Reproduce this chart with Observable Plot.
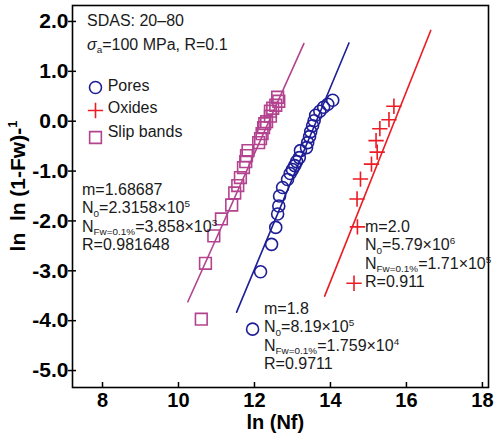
<!DOCTYPE html>
<html><head><meta charset="utf-8">
<script src="https://cdn.jsdelivr.net/npm/d3@7"></script>
<script src="https://cdn.jsdelivr.net/npm/@observablehq/plot@0.6"></script>
<style>body{margin:0;background:#fff} svg{display:block}</style>
</head><body><div id="chart"></div>
<script>
// ---- data ----
const xTicks = [8, 10, 12, 14, 16, 18];
const yTicks = [2, 1, 0, -1, -2, -3, -4, -5];

const poresX = [11.95,12.16,12.45,12.56,12.61,12.64,12.66,12.74,12.87,12.94,13.00,13.06,13.11,13.18,13.21,13.37,13.40,13.45,13.48,13.53,13.57,13.61,13.72,13.82,13.93,14.06];
const poresY = [-4.17,-3.02,-2.47,-2.13,-1.86,-1.70,-1.50,-1.33,-1.17,-1.05,-0.97,-0.89,-0.81,-0.73,-0.59,-0.53,-0.43,-0.31,-0.21,-0.09,0.01,0.12,0.20,0.28,0.34,0.42];

const oxidesX = [14.62,14.71,14.70,14.79,15.08,15.23,15.20,15.30,15.54,15.67];
const oxidesY = [-3.25,-2.12,-1.56,-1.16,-0.86,-0.62,-0.39,-0.15,0.03,0.30];

const slipX = [10.60,10.71,10.93,11.13,11.40,11.48,11.56,11.63,11.71,11.77,11.79,11.83,12.11,12.16,12.20,12.24,12.27,12.32,12.42,12.42,12.48,12.56,12.61,12.64];
const slipY = [-3.97,-2.85,-2.30,-1.96,-1.68,-1.44,-1.29,-1.13,-0.93,-0.81,-0.69,-0.59,-0.43,-0.35,-0.25,-0.13,-0.05,-0.01,0.10,0.20,0.26,0.32,0.48,0.40];

// fitted lines (end points)
const slipFitX = [10.246, 13.30],  slipFitY = [-3.62, 1.557];
const poresFitX = [11.529, 14.487], poresFitY = [-3.829, 1.569];
const oxidesFitX = [13.847, 16.64], oxidesFitY = [-3.507, 1.82];

const seriesNames = ["Pores", "Oxides", "Slip bands"];
// ---- styles ----
const C = {pores: "#1e1e96", oxides: "#ec1c24", slip: "#b3438f"};
const FONT = "'Liberation Sans', Arial, Helvetica, sans-serif";

const zip = (xs, ys) => xs.map((x, i) => ({x, y: ys[i]}));
const pores = zip(poresX, poresY), oxides = zip(oxidesX, oxidesY), slip = zip(slipX, slipY);

const W = 494, H = 436, mL = 72, mR = 6, mT = 5, mB = 49;
const plotW = W - mL - mR, plotH = H - mT - mB;
const PLUS_R = 5;

const svg = Plot.plot({
  width: W, height: H, marginLeft: mL, marginRight: mR, marginTop: mT, marginBottom: mB,
  style: {fontFamily: FONT, background: "#fff", color: "#000", overflow: "visible"},
  x: {domain: [7.21, 18.16]},
  y: {domain: [-5.34, 2.32]},
  marks: [
    Plot.axisX(xTicks, {tickSize: 0, tickPadding: 5, fontSize: 20, fontWeight: "bold", label: null}),
    Plot.ruleX(xTicks, {insetTop: plotH - 5, stroke: "#000", strokeWidth: 1.5}),
    Plot.axisY(yTicks, {tickSize: 4, tickPadding: 0, fontSize: 21, fontWeight: "bold", label: null, strokeWidth: 1.5, tickFormat: d => d.toFixed(1)}),
    Plot.ruleY(yTicks, {insetRight: plotW - 4, stroke: "#000", strokeWidth: 1.5}),
    Plot.line(zip(slipFitX, slipFitY), {x: "x", y: "y", stroke: C.slip, strokeWidth: 1.6}),
    Plot.line(zip(poresFitX, poresFitY), {x: "x", y: "y", stroke: C.pores, strokeWidth: 1.6}),
    Plot.line(zip(oxidesFitX, oxidesFitY), {x: "x", y: "y", stroke: C.oxides, strokeWidth: 1.6}),
    Plot.dot(slip, {x: "x", y: "y", symbol: "square", r: 6.6, stroke: C.slip, strokeWidth: 1.6, fill: "none"}),
    Plot.dot(pores, {x: "x", y: "y", symbol: "circle", r: 6, stroke: C.pores, strokeWidth: 1.6, fill: "none"}),
    Plot.dot(oxides, {x: "x", y: "y", symbol: "plus", r: PLUS_R, stroke: C.oxides, strokeWidth: 1.6}),
    // legend markers
    Plot.dot([seriesNames[0]], {frameAnchor: "top-left", dx: 23, dy: 82, symbol: "circle", r: 6, stroke: C.pores, strokeWidth: 1.6, fill: "none"}),
    Plot.dot([seriesNames[1]], {frameAnchor: "top-left", dx: 23, dy: 105, symbol: "plus", r: PLUS_R, stroke: C.oxides, strokeWidth: 1.6}),
    Plot.dot([seriesNames[2]], {frameAnchor: "top-left", dx: 23, dy: 132, symbol: "square", r: 6.6, stroke: C.slip, strokeWidth: 1.6, fill: "none"}),
    Plot.frame({stroke: "#000", strokeWidth: 1.6})
  ]
});
document.getElementById("chart").appendChild(svg);

// ---- rich text annotations ----
const S = d3.select(svg);
function rich(x, y, parts, opt = {}) {
  const size = opt.size || 16;
  const t = S.append("text").attr("x", x).attr("y", y)
    .attr("font-size", size).attr("font-family", FONT)
    .attr("font-weight", opt.weight || "normal").attr("fill", opt.fill || "#1a1a1a")
    .attr("text-anchor", opt.anchor || "start")
    .style("white-space", "pre");
  if (opt.transform) t.attr("transform", opt.transform).attr("x", 0).attr("y", 0);
  let shift = 0;
  for (const p of parts) {
    const [s, kind] = Array.isArray(p) ? p : [p, null];
    const ts = t.append("tspan").text(s);
    const target = kind === "sub" ? size * 0.22 : kind === "sup" ? -size * 0.38 : 0;
    if (target - shift !== 0) ts.attr("dy", target - shift);
    shift = target;
    if (kind === "sub" || kind === "sup") ts.attr("font-size", size * 0.62);
    if (kind === "it") ts.attr("font-style", "italic");
  }
}
rich(87, 26, ["SDAS: 20\u201380"]);
rich(87, 49.5, [["\u03c3", "it"], ["a", "sub"], "=100 MPa, R=0.1"]);
rich(107.7, 90.7, [seriesNames[0]]);
rich(107.7, 113.3, [seriesNames[1]]);
rich(107.7, 137.3, [seriesNames[2]]);

function block(x, y0, lines) { lines.forEach((l, i) => rich(x, y0 + i * 18.3, l)); }
block(82, 195, [["m=1.68687"], ["N", ["0", "sub"], "=2.3158\u00d710", ["5", "sup"]], ["N", ["Fw=0.1%", "sub"], "=3.858\u00d710", ["3", "sup"]], ["R=0.981648"]]);
block(365, 232, [["m=2.0"], ["N", ["0", "sub"], "=5.79\u00d710", ["6", "sup"]], ["N", ["Fw=0.1%", "sub"], "=1.71\u00d710", ["5", "sup"]], ["R=0.911"]]);
block(264, 314, [["m=1.8"], ["N", ["0", "sub"], "=8.19\u00d710", ["5", "sup"]], ["N", ["Fw=0.1%", "sub"], "=1.759\u00d710", ["4", "sup"]], ["R=0.9711"]]);

// axis titles
rich(275.3, 429, ["ln (Nf)"], {size: 20, weight: "bold", anchor: "middle", fill: "#000"});
rich(0, 0, ["ln  ln (1-Fw)-", ["1", "sup"]], {size: 21, weight: "bold", anchor: "middle", fill: "#000", transform: "translate(25,186) rotate(-90)"});
</script>
</body></html>
